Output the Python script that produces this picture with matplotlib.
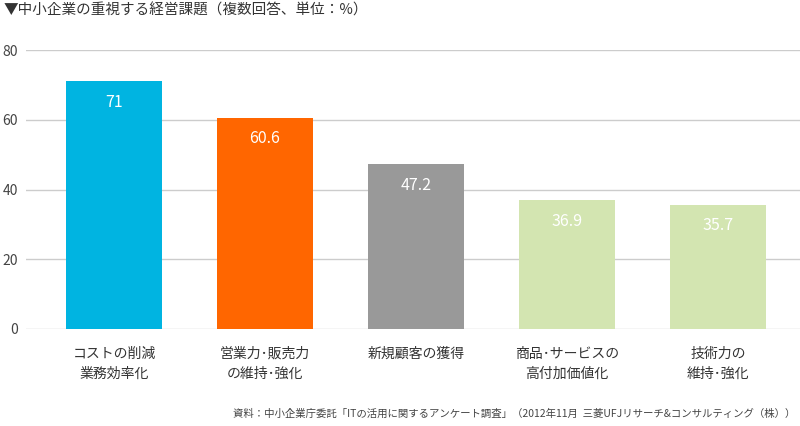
import matplotlib
matplotlib.use('Agg')
import matplotlib.pyplot as plt

plt.rcParams['font.family'] = ['Noto Sans CJK JP', 'DejaVu Sans']

categories = ['コストの削減\n業務効率化', '営業力･販売力\nの維持･強化', '新規顧客の獲得',
              '商品･サービスの\n高付加価値化', '技術力の\n維持･強化']
values = [71, 60.6, 47.2, 36.9, 35.7]
labels = ['71', '60.6', '47.2', '36.9', '35.7']
colors = ['#00b4e1', '#ff6600', '#999999', '#d3e5b1', '#d3e5b1']
yticks = [0, 20, 40, 60, 80]

title = '▼中小企業の重視する経営課題（複数回答、単位：%）'
source = '資料：中小企業庁委託「ITの活用に関するアンケート調査」（2012年11月  三菱UFJリサーチ&コンサルティング（株））'

fig = plt.figure(figsize=(8, 4.26), dpi=100)
ax = fig.add_axes([0.0325, 0.2277, 0.9675, 0.6549])

x = list(range(len(values)))
ax.bar(x, values, width=0.636, color=colors, zorder=3)

for xi, v, lab in zip(x, values, labels):
    ax.annotate(lab, (xi, v), xytext=(0, -15), textcoords='offset points',
                ha='center', va='center', color='white', fontsize=11.5, zorder=4)

ax.set_xlim(-0.583, 4.543)
ax.set_ylim(0, 80)
ax.set_yticks(yticks)
ax.yaxis.grid(True, color='#cccccc', linewidth=1, zorder=0)
ax.set_axisbelow(True)
for s in ax.spines.values():
    s.set_visible(False)
ax.tick_params(axis='y', length=0, pad=6, labelsize=10, labelcolor='#444444')
ax.tick_params(axis='x', length=0, pad=13, labelsize=10, labelcolor='#333333')
ax.set_xticks(x)
ax.set_xticklabels(categories, linespacing=1.55)

fig.text(0.004, 0.976, title, ha='left', va='center', fontsize=10.5, color='#333333')
fig.text(0.994, 0.028, source, ha='right', va='center', fontsize=7.5, color='#444444')

fig.savefig('out.png', dpi=100)
